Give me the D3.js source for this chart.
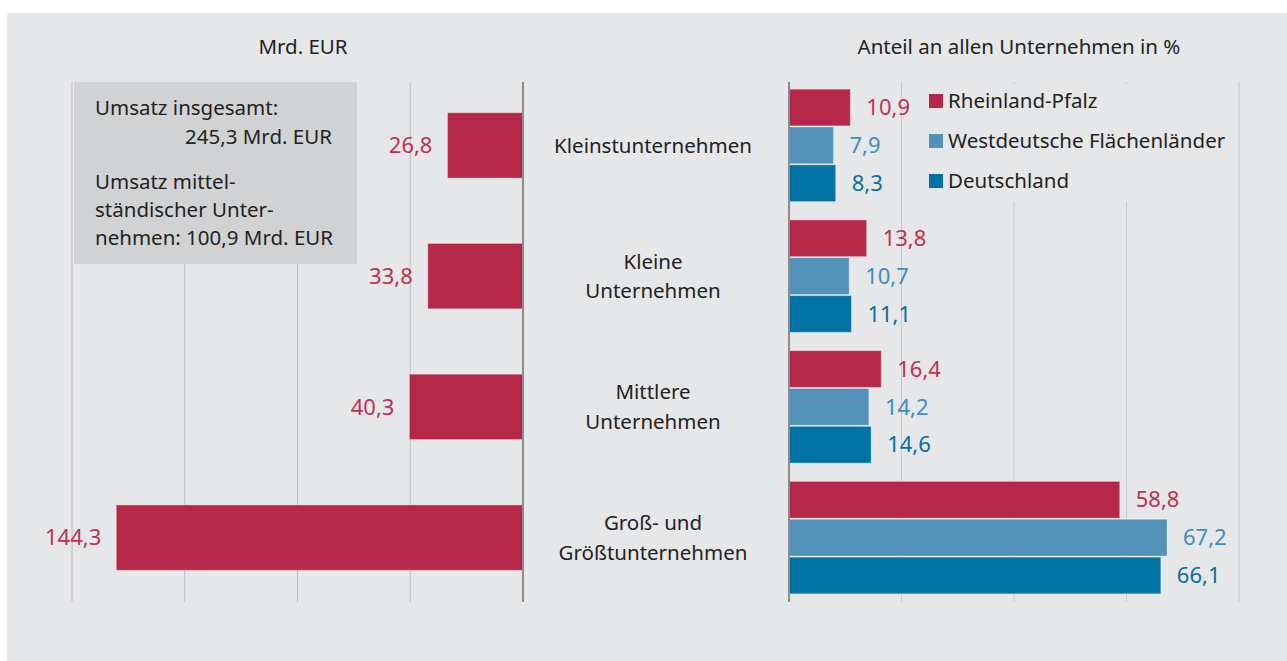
<!DOCTYPE html>
<html>
<head>
<meta charset="utf-8">
<script src="https://cdn.jsdelivr.net/npm/d3@7"></script>
<style>
  html, body { margin: 0; padding: 0; background: #fff; }
  text { font-family: "Noto Sans", "Open Sans", sans-serif; }
</style>
</head>
<body>
<div id="chart-area"></div>
<script>
// Data
const categories = ["Kleinstunternehmen", "Kleine Unternehmen", "Mittlere Unternehmen", "Groß- und Größtunternehmen"];
const categoryLines = [["Kleinstunternehmen"], ["Kleine", "Unternehmen"], ["Mittlere", "Unternehmen"], ["Groß- und", "Größtunternehmen"]];
const umsatz = [26.8, 33.8, 40.3, 144.3];
const seriesNames = ["Rheinland-Pfalz", "Westdeutsche Flächenländer", "Deutschland"];
const rheinlandPfalz = [10.9, 13.8, 16.4, 58.8];
const westdeutsche = [7.9, 10.7, 14.2, 67.2];
const deutschland = [8.3, 11.1, 14.6, 66.1];
const leftTicks = [0, 40, 80, 120, 160];
const rightTicks = [0, 20, 40, 60, 80];
const boxLines = ["Umsatz insgesamt:", "245,3 Mrd. EUR", "Umsatz mittel-", "ständischer Unter-", "nehmen: 100,9 Mrd. EUR"];

(function () {
  const W = 1287, H = 661;
  const FS = 20.5;   // text size
  const VFS = 22;    // value label size
  const barColors = ["#b5284a", "#5292b9", "#0072a4"];
  const labelColors = ["#c0314f", "#3f8dc0", "#0a6ea4"];
  const bg = "#e6e7e9";

  const de = d3.formatLocale({ decimal: ",", thousands: ".", grouping: [3], currency: ["", " €"] });
  const fmt = de.format(".1f");

  const svg = d3.select("#chart-area").append("svg")
    .attr("width", W).attr("height", H);

  svg.append("rect").attr("x", 7).attr("y", 13).attr("width", W - 7).attr("height", H - 13).attr("fill", bg);

  const gridTop = 82, gridBottom = 602;

  // Scales
  const xL = d3.scaleLinear().domain([0, 160]).range([523, 72]);
  const xR = d3.scaleLinear().domain([0, 80]).range([789, 1239]);
  const yL = d3.scaleBand().domain(categories).range([80, 603]).paddingInner(0.5).paddingOuter(0.25);
  const yR = d3.scaleBand().domain(categories).range([80, 603]).paddingInner(0.14).paddingOuter(0.07);
  const ySub = d3.scaleBand().domain(seriesNames).range([0, yR.bandwidth()]).paddingInner(0.03);

  // Gridlines
  svg.append("g").selectAll("line").data(leftTicks.slice(1)).join("line")
    .attr("x1", d => xL(d)).attr("x2", d => xL(d))
    .attr("y1", gridTop).attr("y2", gridBottom)
    .attr("stroke", "#bdbec0").attr("stroke-width", 1);
  svg.append("g").selectAll("line").data(rightTicks.slice(1)).join("line")
    .attr("x1", d => xR(d)).attr("x2", d => xR(d))
    .attr("y1", gridTop).attr("y2", gridBottom)
    .attr("stroke", "#c8c9cb").attr("stroke-width", 1);

  // Titles
  svg.append("text").attr("x", 303).attr("y", 47).attr("dy", "0.35em").attr("text-anchor", "middle")
    .attr("font-size", FS).attr("fill", "#222").text("Mrd. EUR");
  svg.append("text").attr("x", 1019).attr("y", 47).attr("dy", "0.35em").attr("text-anchor", "middle")
    .attr("font-size", FS).attr("fill", "#222").text("Anteil an allen Unternehmen in %");

  // Info box
  svg.append("rect").attr("x", 74).attr("y", 82).attr("width", 283).attr("height", 182).attr("fill", "#d1d2d4");
  const box = svg.append("g").attr("font-size", FS).attr("fill", "#222");
  const boxY = [108, 137, 182, 210, 238];
  boxLines.forEach((l, i) => {
    box.append("text")
      .attr("x", i === 1 ? 332 : 95).attr("y", boxY[i]).attr("dy", "0.35em")
      .attr("text-anchor", i === 1 ? "end" : "start").text(l);
  });

  // Left bars
  const left = svg.append("g");
  left.selectAll("rect").data(umsatz).join("rect")
    .attr("x", d => xL(d)).attr("width", d => xL(0) - xL(d))
    .attr("y", (d, i) => yL(categories[i])).attr("height", yL.bandwidth())
    .attr("fill", barColors[0]).attr("stroke", "rgba(255,255,255,0.35)").attr("stroke-width", 1);
  left.selectAll("text").data(umsatz).join("text")
    .attr("x", d => xL(d) - 15).attr("y", (d, i) => yL(categories[i]) + yL.bandwidth() / 2)
    .attr("dy", "0.35em").attr("text-anchor", "end").attr("font-size", VFS)
    .attr("fill", labelColors[0]).text(d => fmt(d));

  // Category labels
  const cat = svg.append("g").attr("font-size", FS).attr("fill", "#222").attr("text-anchor", "middle");
  categories.forEach((c, i) => {
    const lines = categoryLines[i];
    const cy = yL(c) + yL.bandwidth() / 2;
    lines.forEach((l, j) => {
      cat.append("text").attr("x", 653)
        .attr("y", cy + (j - (lines.length - 1) / 2) * 29.5)
        .attr("dy", "0.35em").text(l);
    });
  });

  // Right bars
  const series = [rheinlandPfalz, westdeutsche, deutschland];
  const right = svg.append("g");
  series.forEach((vals, s) => {
    right.append("g").selectAll("rect").data(vals).join("rect")
      .attr("x", xR(0)).attr("width", d => xR(d) - xR(0))
      .attr("y", (d, i) => yR(categories[i]) + ySub(seriesNames[s]))
      .attr("height", ySub.bandwidth())
      .attr("fill", barColors[s]).attr("stroke", "rgba(255,255,255,0.35)").attr("stroke-width", 1);
    right.append("g").selectAll("text").data(vals).join("text")
      .attr("x", d => xR(d) + 16)
      .attr("y", (d, i) => yR(categories[i]) + ySub(seriesNames[s]) + ySub.bandwidth() / 2)
      .attr("dy", "0.35em").attr("font-size", VFS).attr("fill", labelColors[s])
      .text(d => fmt(d));
  });

  // Legend (covers gridlines behind it)
  svg.append("rect").attr("x", 922).attr("y", 84).attr("width", 311).attr("height", 118).attr("fill", bg);
  const legend = svg.append("g");
  seriesNames.forEach((n, i) => {
    const cy = 101 + i * 40;
    legend.append("rect").attr("x", 929).attr("y", cy - 7).attr("width", 14).attr("height", 14).attr("fill", barColors[i]);
    legend.append("text").attr("x", 948).attr("y", cy).attr("dy", "0.35em")
      .attr("font-size", FS).attr("fill", "#222").text(n);
  });

  // Zero axes
  svg.append("line").attr("x1", xL(0)).attr("x2", xL(0)).attr("y1", gridTop).attr("y2", gridBottom)
    .attr("stroke", "#8c8c8c").attr("stroke-width", 2);
  svg.append("line").attr("x1", xR(0)).attr("x2", xR(0)).attr("y1", gridTop).attr("y2", gridBottom)
    .attr("stroke", "#8c8c8c").attr("stroke-width", 2);
})();
</script>
</body>
</html>
